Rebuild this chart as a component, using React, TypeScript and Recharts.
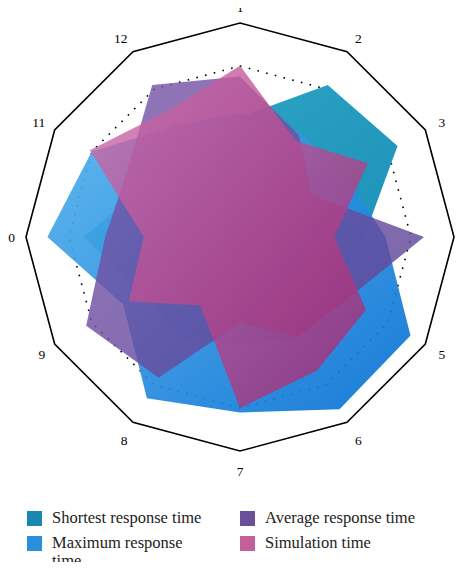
import { RadarChart, Radar, PolarGrid, PolarAngleAxis, PolarRadiusAxis } from 'recharts';

const axes = ['1', '2', '3', '4', '5', '6', '7', '8', '9', '10', '11', '12'];
const shortest = [56, 82, 85, 58, 50, 55, 50, 55, 52, 73, 50, 55];
const maximum = [58, 56, 57, 68, 92, 93, 82, 87, 63, 90, 80, 60];
const average = [75, 55, 39, 86, 58, 54, 40, 76, 83, 63, 61, 82];
const simulation = [80, 52, 69, 44, 68, 72, 80, 37, 60, 45, 81, 68];

const seriesNames = ['Shortest response time', 'Maximum response time', 'Average response time', 'Simulation time'];
const legendColors = ['#1a87ae', '#2a8fdc', '#6b4f9b', '#c2609c'];

const chartData = axes.map((axis, i) => ({
  axis,
  shortest: shortest[i],
  maximum: maximum[i],
  average: average[i],
  simulation: simulation[i]
}));

const CX = 240;
const CY = 237;
const R = 214;
const FONT = '"Liberation Serif", "DejaVu Serif", serif';

// labels sit just outside the outer polygon, anchored away from the centre
const AxisTick = (props: any) => {
  const { x, y, payload } = props;
  const dx = x - CX;
  const dy = y - CY;
  const len = Math.sqrt(dx * dx + dy * dy) || 1;
  const ux = dx / len;
  const uy = dy / len;
  let anchor: 'start' | 'middle' | 'end' = 'middle';
  let tx = CX + ux * 228;
  if (ux > 0.1) {
    anchor = 'start';
    tx = CX + ux * 228 + 1;
  } else if (ux < -0.1) {
    anchor = 'end';
    tx = CX + ux * 225;
  }
  const ty = CY + uy * 230 + 5 + Math.max(uy, 0) * 4;
  return (
    <text x={tx} y={ty} textAnchor={anchor} fontSize={13.5} fontFamily={FONT} fill="#000">
      {payload.value}
    </text>
  );
};

export default function App() {
  return (
    <div style={{ position: 'relative', margin: -8, width: 476, height: 570, background: '#fff', overflow: 'hidden' }}>
      <RadarChart width={476} height={490} data={chartData} cx={CX} cy={CY} outerRadius={R} margin={{ top: 0, right: 0, bottom: 0, left: 0 }}>
        <defs>
          <linearGradient id="gTeal" x1="0" y1="0" x2="1" y2="1">
            <stop offset="0%" stopColor="#30a8c8" />
            <stop offset="100%" stopColor="#1a8db6" />
          </linearGradient>
          <linearGradient id="gBlue" x1="0" y1="0" x2="1" y2="1">
            <stop offset="0%" stopColor="#52b2ec" />
            <stop offset="100%" stopColor="#0670d4" />
          </linearGradient>
          <linearGradient id="gPurple" x1="0" y1="0" x2="1" y2="1">
            <stop offset="0%" stopColor="#7a58aa" />
            <stop offset="100%" stopColor="#5c4396" />
          </linearGradient>
          <linearGradient id="gPink" x1="0" y1="0" x2="1" y2="1">
            <stop offset="0%" stopColor="#cf6fae" />
            <stop offset="100%" stopColor="#a52670" />
          </linearGradient>
        </defs>
        <PolarGrid gridType="polygon" radialLines={false} polarRadius={[R]} stroke="#000" strokeWidth={1.6} strokeOpacity={1} />
        <PolarGrid gridType="polygon" radialLines={false} polarRadius={[171]} stroke="#000" strokeWidth={1.6} strokeOpacity={1} strokeDasharray="1.6 7.4" />
        <PolarAngleAxis dataKey="axis" tick={<AxisTick />} tickLine={false} axisLine={false} />
        <PolarRadiusAxis domain={[0, 100]} tick={false} axisLine={false} />
        <Radar name={seriesNames[0]} dataKey="shortest" stroke="none" fill="url(#gTeal)" fillOpacity={1} isAnimationActive={false} />
        <Radar name={seriesNames[1]} dataKey="maximum" stroke="none" fill="url(#gBlue)" fillOpacity={0.92} isAnimationActive={false} />
        <Radar name={seriesNames[2]} dataKey="average" stroke="none" fill="url(#gPurple)" fillOpacity={0.82} isAnimationActive={false} />
        <Radar name={seriesNames[3]} dataKey="simulation" stroke="none" fill="url(#gPink)" fillOpacity={0.8} isAnimationActive={false} />
      </RadarChart>
      {seriesNames.map((name, i) => {
        const col = i < 2 ? 0 : 1;
        const row = i % 2;
        return (
          <div
            key={name}
            style={{
              position: 'absolute',
              left: col === 0 ? 27 : 240,
              top: row === 0 ? 511 : 536,
              display: 'flex',
              alignItems: 'flex-start',
              fontFamily: FONT,
              fontSize: 16.5,
              lineHeight: '17.5px',
              color: '#222'
            }}
          >
            <div style={{ width: 15, height: 15, background: legendColors[i], flexShrink: 0 }} />
            <div style={{ marginLeft: 10, width: 155, marginTop: -2 }}>{name}</div>
          </div>
        );
      })}
    </div>
  );
}
